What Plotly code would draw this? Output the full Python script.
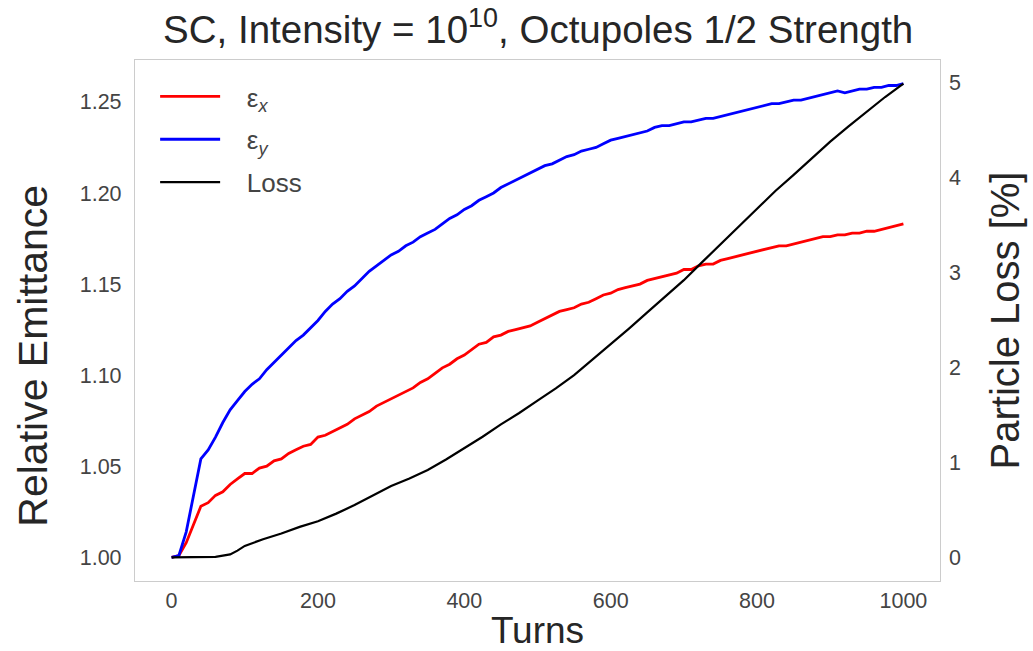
import plotly.graph_objects as go

turns = list(range(0, 1001, 10))

emit_x = [1.000, 1.001, 1.008, 1.018, 1.028, 1.030, 1.034, 1.036, 1.040, 1.043,
          1.046, 1.046, 1.049, 1.050, 1.053, 1.054, 1.057, 1.059, 1.061, 1.062,
          1.066, 1.067, 1.069, 1.071, 1.073, 1.076, 1.078, 1.080, 1.083, 1.085,
          1.087, 1.089, 1.091, 1.093, 1.096, 1.098, 1.101, 1.104, 1.106, 1.109,
          1.111, 1.114, 1.117, 1.118, 1.121, 1.122, 1.124, 1.125, 1.126, 1.127,
          1.129, 1.131, 1.133, 1.135, 1.136, 1.137, 1.139, 1.140, 1.142, 1.144,
          1.145, 1.147, 1.148, 1.149, 1.150, 1.152, 1.153, 1.154, 1.155, 1.156,
          1.158, 1.158, 1.160, 1.161, 1.161, 1.163, 1.164, 1.165, 1.166, 1.167,
          1.168, 1.169, 1.170, 1.171, 1.171, 1.172, 1.173, 1.174, 1.175, 1.176,
          1.176, 1.177, 1.177, 1.178, 1.178, 1.179, 1.179, 1.180, 1.181, 1.182,
          1.183]

emit_y = [1.000, 1.001, 1.014, 1.034, 1.054, 1.059, 1.066, 1.074, 1.081, 1.086,
          1.091, 1.095, 1.098, 1.103, 1.107, 1.111, 1.115, 1.119, 1.122, 1.126,
          1.130, 1.135, 1.139, 1.142, 1.146, 1.149, 1.153, 1.157, 1.160, 1.163,
          1.166, 1.168, 1.171, 1.173, 1.176, 1.178, 1.180, 1.183, 1.186, 1.188,
          1.191, 1.193, 1.196, 1.198, 1.200, 1.203, 1.205, 1.207, 1.209, 1.211,
          1.213, 1.215, 1.216, 1.218, 1.220, 1.221, 1.223, 1.224, 1.225, 1.227,
          1.229, 1.230, 1.231, 1.232, 1.233, 1.234, 1.236, 1.237, 1.237, 1.238,
          1.239, 1.239, 1.240, 1.241, 1.241, 1.242, 1.243, 1.244, 1.245, 1.246,
          1.247, 1.248, 1.249, 1.249, 1.250, 1.251, 1.251, 1.252, 1.253, 1.254,
          1.255, 1.256, 1.255, 1.256, 1.257, 1.257, 1.258, 1.258, 1.259, 1.259,
          1.260]

loss_turns = [0, 20, 40, 60, 80, 90, 100, 125, 150, 175, 200, 225, 250, 275,
              300, 325, 350, 375, 400, 425, 450, 475, 500, 525, 550, 575, 600,
              625, 650, 675, 700, 725, 750, 775, 800, 825, 850, 875, 900, 925,
              950, 975, 1000]
loss = [0.0, 0.0, 0.0, 0.005, 0.03, 0.07, 0.12, 0.19, 0.25, 0.32, 0.38, 0.46,
        0.55, 0.65, 0.75, 0.83, 0.92, 1.03, 1.15, 1.27, 1.40, 1.52, 1.65, 1.78,
        1.92, 2.08, 2.25, 2.41, 2.58, 2.75, 2.92, 3.11, 3.30, 3.49, 3.68, 3.86,
        4.03, 4.21, 4.38, 4.54, 4.70, 4.85, 4.99]

left_ticks = [1.00, 1.05, 1.10, 1.15, 1.20, 1.25]
right_ticks = [0, 1, 2, 3, 4, 5]
x_ticks = [0, 200, 400, 600, 800, 1000]

txt = "#262626"
tick_col = "#444444"
frame = "#cccccc"
pad = "&nbsp;&nbsp;&nbsp;"

fig = go.Figure()
fig.add_trace(go.Scatter(x=turns, y=emit_x, mode="lines", name=pad + "ε<sub><i>x</i></sub>",
                         line=dict(color="#ff0000", width=2.8), legendgroup="a"))
fig.add_trace(go.Scatter(x=turns, y=emit_y, mode="lines", name=pad + "ε<sub><i>y</i></sub>",
                         line=dict(color="#0000ff", width=2.8), legendgroup="b"))
fig.add_trace(go.Scatter(x=loss_turns, y=loss, mode="lines", name=pad + "Loss",
                         line=dict(color="#000000", width=2.2), yaxis="y2", legendgroup="c"))

fig.update_layout(
    width=1033, height=651,
    margin=dict(l=135, r=93, t=60, b=70, autoexpand=False),
    paper_bgcolor="white", plot_bgcolor="white",
    font=dict(family="Liberation Sans, Arial, sans-serif", color=txt),
    title=dict(text="SC, Intensity = 10<sup>10</sup>, Octupoles 1/2 Strength",
               x=0.521, xanchor="center", y=0.955, yanchor="middle",
               font=dict(size=38.5, color=txt)),
    xaxis=dict(range=[-50, 1050], tickvals=x_ticks, showgrid=False, zeroline=False,
               showline=True, linecolor=frame, linewidth=1.2, mirror=True, automargin=False,
               ticks="", ticklabelstandoff=0, tickfont=dict(size=21.5, color=tick_col),
               title=dict(text="Turns", font=dict(size=37, color=txt), standoff=7)),
    yaxis=dict(range=[0.987, 1.273], tickvals=left_ticks, tickformat=".2f",
               showgrid=False, zeroline=False, showline=True, linecolor=frame,
               linewidth=1.2, mirror=True, ticks="", ticklabelstandoff=8, automargin=False,
               tickfont=dict(size=21.5, color=tick_col)),
    yaxis2=dict(range=[-0.25, 5.24], tickvals=right_ticks, overlaying="y", side="right",
                showgrid=False, zeroline=False, showline=False, ticks="", automargin=False,
                ticklabelstandoff=8, tickfont=dict(size=21.5, color=tick_col),
                title=dict(text="Particle Loss [%]", font=dict(size=40, color=txt), standoff=30)),
    legend=dict(x=0.025, y=0.975, xanchor="left", yanchor="top",
                bgcolor="rgba(0,0,0,0)", font=dict(size=26, color="#444"),
                itemwidth=60, tracegroupgap=6),
    showlegend=True,
    annotations=[dict(text="Relative Emittance", textangle=-90, showarrow=False,
                      xref="paper", yref="paper", x=-0.127, y=0.432,
                      xanchor="center", yanchor="middle",
                      font=dict(size=41, color=txt))],
)

fig.write_html("out.html")
